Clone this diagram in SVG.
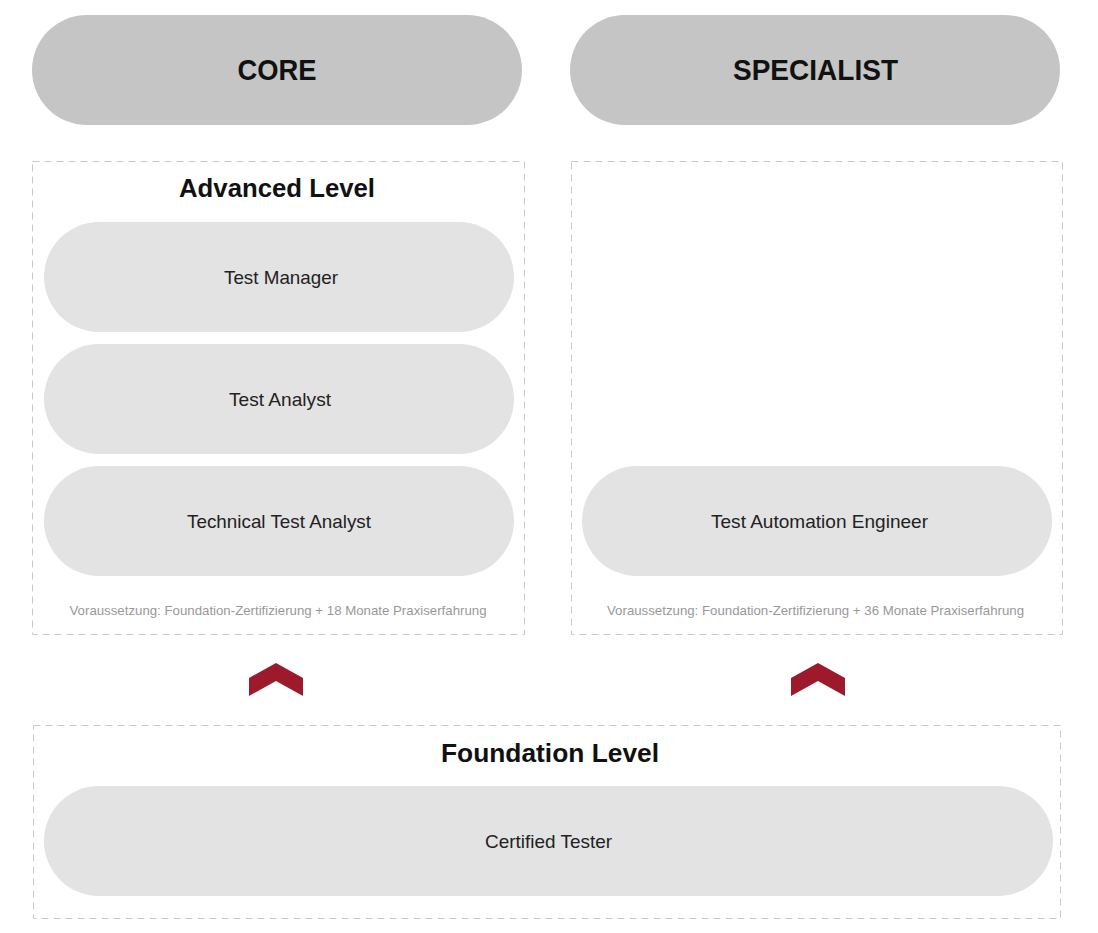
<svg xmlns="http://www.w3.org/2000/svg" width="1098" height="933" viewBox="0 0 1098 933">
<style>
.head{fill:#c4c5c4}
.pill{fill:#e3e3e3}
.box{fill:none;stroke:#c8c8c8;stroke-width:1;stroke-dasharray:7 5}
.t{font-family:"Liberation Sans",Arial,sans-serif;text-anchor:middle}
.h1{font-size:30px;font-weight:bold;fill:#111}
.h2{font-size:26px;font-weight:bold;fill:#111}
.lb{font-size:18.5px;fill:#222}
.note{font-size:13px;fill:#999}
.chev{fill:#9c1a2c}
</style>
<rect width="1098" height="933" fill="#fff"/>
<g id="core">
<rect class="head" x="32" y="15" width="490" height="110" rx="55"/>
<text class="t h1" x="277" y="80" textLength="79" lengthAdjust="spacingAndGlyphs">CORE</text>
</g>
<g id="specialist">
<rect class="head" x="570" y="15" width="490" height="110" rx="55"/>
<text class="t h1" x="815.5" y="80" textLength="165" lengthAdjust="spacingAndGlyphs">SPECIALIST</text>
</g>
<g id="advanced">
<rect class="box" x="32.5" y="161.5" width="492" height="473"/>
<text class="t h2" x="277" y="197" textLength="196" lengthAdjust="spacingAndGlyphs">Advanced Level</text>
<text class="t note" x="278" y="615" textLength="417" lengthAdjust="spacingAndGlyphs">Voraussetzung: Foundation-Zertifizierung + 18 Monate Praxiserfahrung</text>
</g>
<g id="test-manager">
<rect class="pill" x="44" y="222" width="470" height="110" rx="55"/>
<text class="t lb" x="281" y="284" textLength="114" lengthAdjust="spacingAndGlyphs">Test Manager</text>
</g>
<g id="test-analyst">
<rect class="pill" x="44" y="344" width="470" height="110" rx="55"/>
<text class="t lb" x="280" y="406" textLength="102" lengthAdjust="spacingAndGlyphs">Test Analyst</text>
</g>
<g id="technical-test-analyst">
<rect class="pill" x="44" y="466" width="470" height="110" rx="55"/>
<text class="t lb" x="279" y="528" textLength="184" lengthAdjust="spacingAndGlyphs">Technical Test Analyst</text>
</g>
<g id="specialist-box">
<rect class="box" x="571.5" y="161.5" width="491" height="473"/>
<text class="t note" x="815.5" y="615" textLength="417" lengthAdjust="spacingAndGlyphs">Voraussetzung: Foundation-Zertifizierung + 36 Monate Praxiserfahrung</text>
</g>
<g id="test-automation-engineer">
<rect class="pill" x="582" y="466" width="470" height="110" rx="55"/>
<text class="t lb" x="819.5" y="528" textLength="217" lengthAdjust="spacingAndGlyphs">Test Automation Engineer</text>
</g>
<g id="foundation">
<rect class="box" x="33.5" y="725.5" width="1027" height="193"/>
<text class="t h2" x="550" y="762" textLength="218" lengthAdjust="spacingAndGlyphs">Foundation Level</text>
</g>
<g id="certified-tester">
<rect class="pill" x="44" y="786" width="1009" height="110" rx="55"/>
<text class="t lb" x="548.5" y="848" textLength="127" lengthAdjust="spacingAndGlyphs">Certified Tester</text>
</g>
<g id="connectors">
<polygon class="chev" points="249,678 276,663 303,678 303,696 276,681 249,696"/>
<polygon class="chev" points="791,678 818,663 845,678 845,696 818,681 791,696"/>
</g>
</svg>
